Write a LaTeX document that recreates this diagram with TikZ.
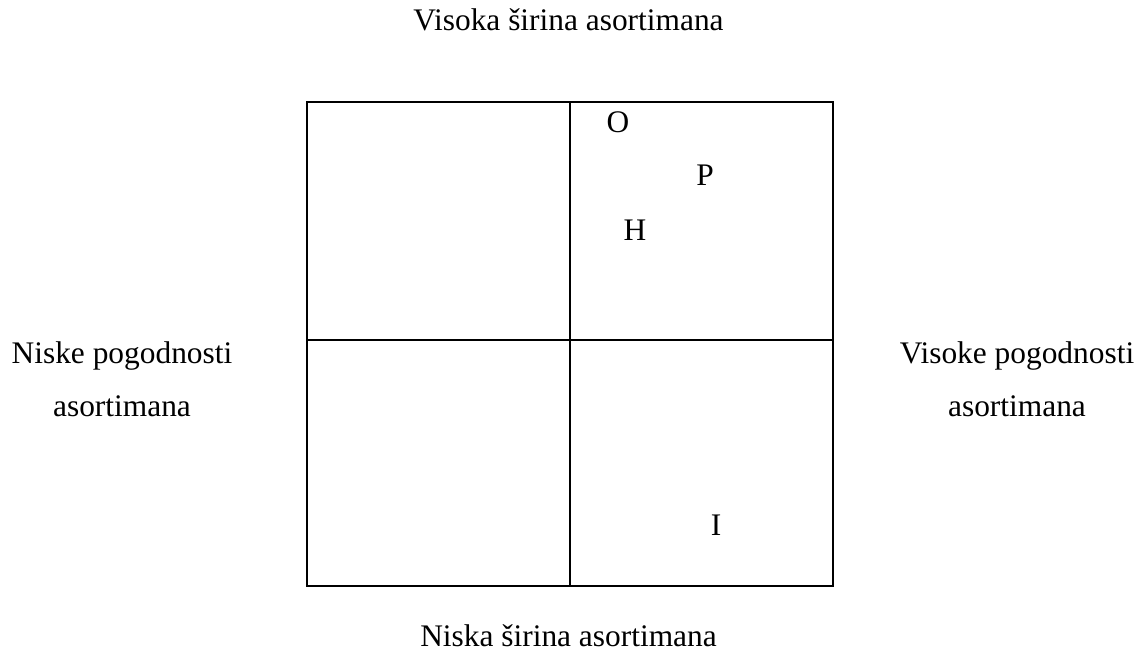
\documentclass[tikz,border=0pt]{standalone}
\usepackage{fontspec}
\setmainfont{Liberation Serif}
\begin{document}
\begin{tikzpicture}[x=1pt,y=-1pt,
  lbl/.style={font=\fontsize{31.4}{36}\selectfont, inner sep=0pt, anchor=base},
  box/.style={draw=black, line width=2pt}]
\useasboundingbox (0,0) rectangle (1145,668);
\coordinate (tl) at (307,102);
\coordinate (br) at (833,586);
\draw[box] (tl) rectangle (br);
\draw[box] (570,102) -- (570,586);
\draw[box] (307,340) -- (833,340);
\node[lbl] (top) at (568.5,31) {Visoka širina asortimana};
\node[lbl] (bot) at (568.5,646) {Niska širina asortimana};
\node[lbl] (l1) at (122,363) {Niske pogodnosti};
\node[lbl] (l2) at (122,416) {asortimana};
\node[lbl] (r1) at (1017,363) {Visoke pogodnosti};
\node[lbl] (r2) at (1017,416) {asortimana};
\node[lbl,anchor=center] (O) at (618,122) {O};
\node[lbl,anchor=center] (P) at (705,175) {P};
\node[lbl,anchor=center] (H) at (635,230) {H};
\node[lbl,anchor=center] (I) at (716,525) {I};
\end{tikzpicture}
\end{document}
